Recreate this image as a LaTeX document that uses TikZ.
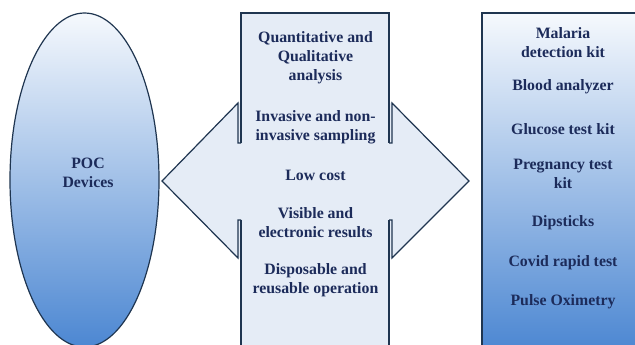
\documentclass[tikz,border=0pt]{standalone}
\usepackage{fontspec}
\setmainfont{Liberation Serif}
\usetikzlibrary{shapes.geometric}
\definecolor{txt}{HTML}{1C2B5A}
\definecolor{edge}{HTML}{1F3550}
\definecolor{midfill}{HTML}{E5ECF6}
\definecolor{gtop}{HTML}{F6F9FD}
\definecolor{gbot}{HTML}{4C87D2}
\tikzset{
  lbl/.style={text=txt, font=\fontsize{15.8}{19}\selectfont\bfseries, align=center, inner sep=0pt},
  outline/.style={draw=edge, line width=1.2pt, line join=miter},
}
\begin{document}
\begin{tikzpicture}[x=1pt,y=-1pt]
\useasboundingbox (0,0) rectangle (635,345);
% ellipse
\path[outline, top color=gtop, bottom color=gbot] (84.5,180) ellipse [x radius=74.5, y radius=167];
\node[lbl] (poc) at (88,173) {POC\\Devices};
% central cross shape
\fill[midfill] (241,13) -- (389,13) -- (389,103) -- (392,103) -- (469,181) -- (392,258) -- (389,258) -- (389,350) -- (241,350) -- (241,258) -- (238,258) -- (162,181) -- (238,103) -- (241,103) -- cycle;
\draw[outline] (241,143) -- (241,13) -- (389,13) -- (389,143);
\draw[outline] (241,220) -- (241,350);
\draw[outline] (389,220) -- (389,350);
\draw[outline] (241,143) -- (238,143) -- (238,103) -- (162,181) -- (238,258) -- (238,220) -- (241,220);
\draw[outline] (389,143) -- (392,143) -- (392,103) -- (469,181) -- (392,258) -- (392,220) -- (389,220);
\node[lbl] (m1) at (315.5,58) {Quantitative and\\Qualitative\\analysis};
\node[lbl] (m2) at (315.5,127) {Invasive and non-\\invasive sampling};
\node[lbl] (m3) at (315.5,175) {Low cost};
\node[lbl] (m4) at (315.5,223) {Visible and\\electronic results};
\node[lbl] (m5) at (315.5,280) {Disposable and\\reusable operation};
% right box
\path[outline, top color=gtop, bottom color=gbot] (482,13) rectangle (644,350);
\node[lbl] (r1) at (563,43) {Malaria\\detection kit};
\node[lbl] (r2) at (563,87) {Blood analyzer};
\node[lbl] (r3) at (563,129) {Glucose test kit};
\node[lbl] (r4) at (563,174) {Pregnancy test\\kit};
\node[lbl] (r5) at (563,223) {Dipsticks};
\node[lbl] (r6) at (563,263) {Covid rapid test};
\node[lbl] (r7) at (563,302) {Pulse Oximetry};
\end{tikzpicture}
\end{document}
